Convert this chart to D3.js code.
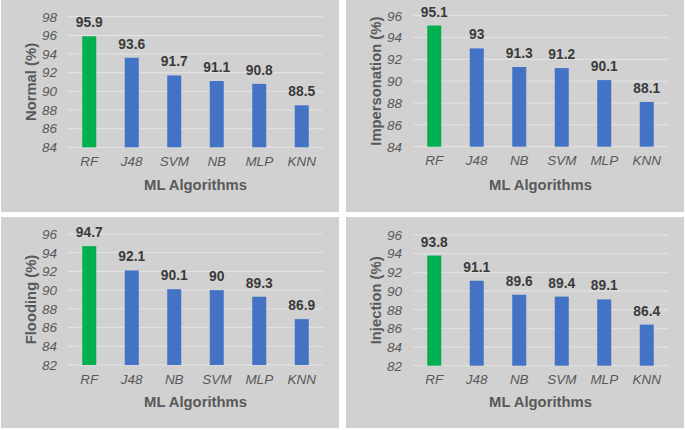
<!DOCTYPE html>
<html><head><meta charset="utf-8">
<script src="https://cdn.jsdelivr.net/npm/d3@7"></script>
<style>
html,body{margin:0;padding:0;background:#fff;}
svg{display:block;font-family:"Liberation Sans",Arial,sans-serif;}
</style></head>
<body>
<svg id="c" width="685" height="430"></svg>
<script>
// ---- data ----
const yTitles = ["Normal (%)", "Impersonation (%)", "Flooding (%)", "Injection (%)"];
const xTitle = "ML Algorithms";
const catsNormal = ["RF", "J48", "SVM", "NB", "MLP", "KNN"];
const catsImpersonation = ["RF", "J48", "NB", "SVM", "MLP", "KNN"];
const catsFlooding = ["RF", "J48", "NB", "SVM", "MLP", "KNN"];
const catsInjection = ["RF", "J48", "NB", "SVM", "MLP", "KNN"];
const valNormal = [95.9, 93.6, 91.7, 91.1, 90.8, 88.5];
const valImpersonation = [95.1, 93, 91.3, 91.2, 90.1, 88.1];
const valFlooding = [94.7, 92.1, 90.1, 90, 89.3, 86.9];
const valInjection = [93.8, 91.1, 89.6, 89.4, 89.1, 86.4];
const ticksNormal = [84, 86, 88, 90, 92, 94, 96, 98];
const ticksImpersonation = [84, 86, 88, 90, 92, 94, 96];
const ticksFlooding = [82, 84, 86, 88, 90, 92, 94, 96];
const ticksInjection = [82, 84, 86, 88, 90, 92, 94, 96];

// ---- layout (not data) ----
const panels = [
  {x: 1,   y: 0,   w: 338, h: 212, t: 16.7, b: 147.3, title: yTitles[0], cats: catsNormal, vals: valNormal, ticks: ticksNormal},
  {x: 346, y: 0,   w: 338, h: 212, t: 15.7, b: 146.7, title: yTitles[1], cats: catsImpersonation, vals: valImpersonation, ticks: ticksImpersonation},
  {x: 1,   y: 217, w: 338, h: 211, t: 17,   b: 148,   title: yTitles[2], cats: catsFlooding, vals: valFlooding, ticks: ticksFlooding},
  {x: 346, y: 217, w: 338, h: 211, t: 18,   b: 148.7, title: yTitles[3], cats: catsInjection, vals: valInjection, ticks: ticksInjection}
];
const plotL = 67, plotR = 322;
const bg = "#d1d1d1", grid = "#e4e4e4", green = "#00b050", blue = "#4472c4";
const tickCol = "#595959", titleCol = "#595959", valCol = "#3a3a3a";
const FONT = '"Liberation Sans",Arial,sans-serif';

const svg = d3.select("#c");

panels.forEach(p => {
  const g = svg.append("g").attr("transform", `translate(${p.x},${p.y})`);
  g.append("rect").attr("width", p.w).attr("height", p.h).attr("fill", bg);

  const x = d3.scaleBand().domain(p.cats).range([plotL, plotR]).paddingInner(0.67).paddingOuter(0.335);
  const y = d3.scaleLinear().domain([p.ticks[0], p.ticks[p.ticks.length - 1]]).range([p.b, p.t]);

  // gridlines
  g.append("g").selectAll("line").data(p.ticks).join("line")
    .attr("x1", plotL).attr("x2", plotR)
    .attr("y1", d => y(d)).attr("y2", d => y(d))
    .attr("stroke", grid).attr("stroke-width", 1);

  // y axis labels
  const ya = g.append("g").attr("transform", `translate(${plotL - 1},0)`)
    .call(d3.axisLeft(y).tickValues(p.ticks).tickSize(0).tickPadding(10));
  ya.select(".domain").remove();
  ya.selectAll("text").attr("fill", tickCol).attr("font-size", 13.5).attr("font-style", "italic")
    .attr("font-family", FONT);

  // x axis labels
  const xa = g.append("g").attr("transform", `translate(0,${p.b})`)
    .call(d3.axisBottom(x).tickSize(0).tickPadding(9));
  xa.select(".domain").remove();
  xa.selectAll("text").attr("fill", tickCol).attr("font-size", 13.5).attr("font-style", "italic")
    .attr("font-family", FONT);

  // bars
  const data = p.cats.map((c, i) => ({c, v: p.vals[i], i}));
  g.append("g").selectAll("rect").data(data).join("rect")
    .attr("x", d => x(d.c)).attr("width", x.bandwidth())
    .attr("y", d => y(d.v)).attr("height", d => y(p.ticks[0]) - y(d.v))
    .attr("fill", d => d.i === 0 ? green : blue);

  // value labels
  g.append("g").selectAll("text").data(data).join("text")
    .attr("x", d => x(d.c) + x.bandwidth() / 2).attr("y", d => y(d.v) - 9)
    .attr("text-anchor", "middle").attr("font-size", 13.8).attr("font-weight", "bold")
    .attr("fill", valCol).text(d => d.v);

  // axis titles
  g.append("text").attr("x", (plotL + plotR) / 2).attr("y", 184.5).attr("dy", "0.35em")
    .attr("text-anchor", "middle").attr("font-size", 14.8).attr("font-weight", "bold")
    .attr("fill", titleCol).text(xTitle);
  g.append("text").attr("transform", `translate(30,${(p.t + p.b) / 2}) rotate(-90)`)
    .attr("dy", "0.35em").attr("text-anchor", "middle").attr("font-size", 14.8).attr("font-weight", "bold")
    .attr("fill", titleCol).text(p.title);
});
</script>
</body></html>
